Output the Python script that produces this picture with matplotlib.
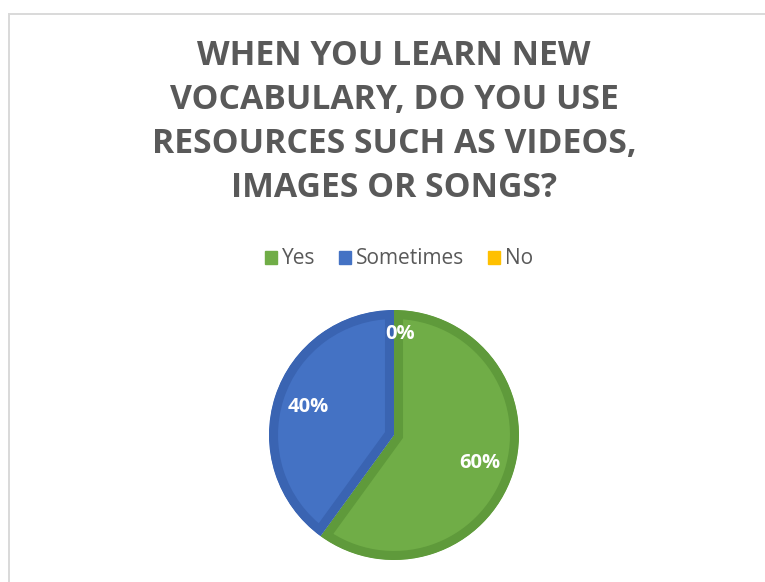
import matplotlib.pyplot as plt
from matplotlib.patches import Rectangle
import numpy as np

plt.rcParams['font.family'] = ['Open Sans', 'DejaVu Sans']

title = "WHEN YOU LEARN NEW\nVOCABULARY, DO YOU USE\nRESOURCES SUCH AS VIDEOS,\nIMAGES OR SONGS?"
labels = ["Yes", "Sometimes", "No"]
shares = [60, 40, 0]
fill_colors = ["#70AD47", "#4472C4", "#FFC000"]
edge_colors = ["#5F9A3B", "#3A64B2", "#E0A800"]

W, H = 765, 582
fig = plt.figure(figsize=(W / 100, H / 100), dpi=100)

# light chart-area frame (right and bottom sides fall outside the canvas)
fig.add_artist(Rectangle((9 / W, -0.1), 1.2, 1 - 13.5 / H + 0.1, transform=fig.transFigure,
                         fill=False, edgecolor="#d9d9d9", linewidth=1.4))

fig.text(394 / W, 1 - 122 / H, title, ha="center", va="center", fontsize=24.3,
         fontweight="bold", color="#595959", linespacing=1.38)

# pie axes: centre (394, 435) px, radius 125 px
cx, cy, r = 394, 435, 125
ax = fig.add_axes([(cx - r) / W, (H - cy - r) / H, 2 * r / W, 2 * r / H])
wedges, _ = ax.pie(shares, colors=fill_colors, startangle=90, counterclock=False,
                   radius=1.0, wedgeprops=dict(linewidth=0))
ax.set_xlim(-1, 1)
ax.set_ylim(-1, 1)
ax.set_aspect("equal")
ax.axis("off")

# darker inner border on each slice: a wide stroke clipped to the slice itself
for w, ec in zip(wedges, edge_colors):
    if w.theta2 - w.theta1 <= 0:
        continue
    w.set_edgecolor(ec)
    w.set_linewidth(13)
    w.set_clip_path(w)
    w.set_clip_on(True)

# percentage labels at slice mid-angles
for w, v in zip(wedges, shares):
    mid = np.deg2rad((w.theta1 + w.theta2) / 2)
    d = 0.72 if v > 0 else 0.81
    ax.text(d * np.cos(mid) + (0.05 if v == 0 else 0), d * np.sin(mid), f"{v}%",
            ha="center", va="center", color="white", fontsize=14.5, fontweight="bold")

handles = [Rectangle((0, 0), 1, 1, color=c) for c in fill_colors]
fig.legend(handles, labels, loc="center", bbox_to_anchor=(399 / W, 1 - 259 / H), ncol=3,
           frameon=False, fontsize=15, labelcolor="#595959", handlelength=0.6,
           handleheight=0.6, handletextpad=0.25, columnspacing=1.1)

fig.savefig("out.png", dpi=100, facecolor="white")
